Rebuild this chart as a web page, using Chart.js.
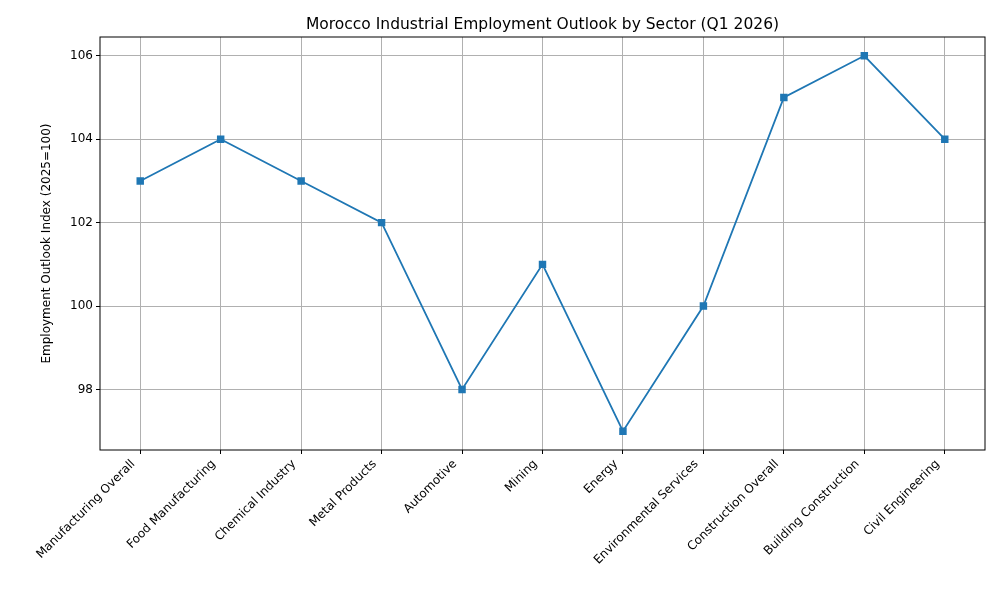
<!DOCTYPE html>
<html><head><meta charset="utf-8">
<script src="https://cdn.jsdelivr.net/npm/chart.js@4/dist/chart.umd.min.js"></script>
<style>body{margin:0;background:#fff}#wrap{width:1000px;height:600px}</style>
</head><body><div id="wrap"><canvas id="c"></canvas></div>
<script>
const sectors = ["Manufacturing Overall", "Food Manufacturing", "Chemical Industry", "Metal Products",
  "Automotive", "Mining", "Energy", "Environmental Services", "Construction Overall",
  "Building Construction", "Civil Engineering"];
const outlook = [103, 104, 103, 102, 98, 101, 97, 100, 105, 106, 104];
const yTicks = [98, 100, 102, 104, 106];

// title + axes frame, drawn like matplotlib
const frame = {
  id: "frame",
  afterDraw(chart) {
    const { ctx, chartArea: a } = chart;
    ctx.save();
    ctx.strokeStyle = "#000";
    ctx.lineWidth = 1;
    ctx.strokeRect(a.left, a.top, a.right - a.left, a.bottom - a.top);
    ctx.fillStyle = "#000";
    ctx.font = "15.5px 'DejaVu Sans'";
    ctx.textAlign = "center";
    ctx.textBaseline = "alphabetic";
    ctx.fillText("Morocco Industrial Employment Outlook by Sector (Q1 2026)", (a.left + a.right) / 2, 29);
    ctx.restore();
  }
};

new Chart(document.getElementById("c"), {
  type: "line",
  data: {
    labels: sectors,
    datasets: [{
      data: outlook,
      borderColor: "#1f77b4",
      backgroundColor: "#1f77b4",
      borderWidth: 1.8,
      pointStyle: "rect",
      pointRadius: 4,
      tension: 0
    }]
  },
  options: {
    responsive: true,
    maintainAspectRatio: false,
    animation: false,
    layout: { padding: { top: 37, right: 15, left: 36, bottom: 0 } },
    plugins: { legend: { display: false }, tooltip: { enabled: false } },
    scales: {
      x: {
        offset: true,
        grid: { color: "#b0b0b0", offset: false, drawTicks: true, tickLength: 4, tickColor: "#000" },
        border: { display: false },
        ticks: { color: "#000", font: { family: "DejaVu Sans", size: 12 }, minRotation: 45, maxRotation: 45, autoSkip: false, labelOffset: -7 },
        afterFit(s) { s.height = 150; }
      },
      y: {
        min: 96.55, max: 106.45,
        afterBuildTicks(s) { s.ticks = yTicks.map(v => ({ value: v })); },
        grid: { color: "#b0b0b0", tickLength: 4, tickColor: "#000" },
        border: { display: false },
        ticks: { color: "#000", font: { family: "DejaVu Sans", size: 12 } },
        title: { display: true, text: "Employment Outlook Index (2025=100)", color: "#000", font: { family: "DejaVu Sans", size: 12 } },
        afterFit(s) { s.width = 64; }
      }
    }
  },
  plugins: [frame]
});
</script>
</body></html>
